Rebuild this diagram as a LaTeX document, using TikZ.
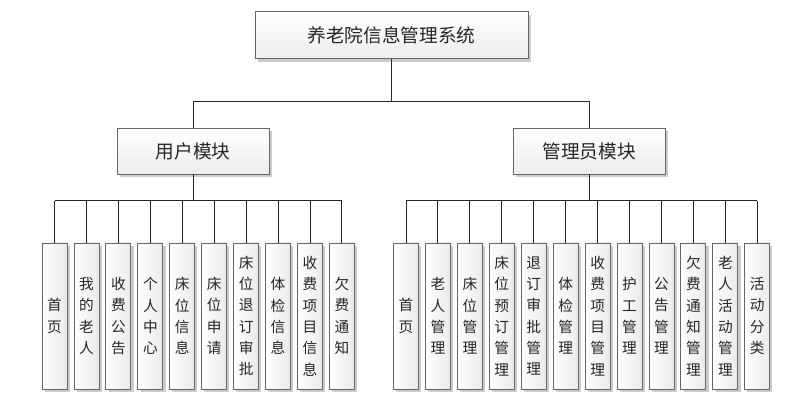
\documentclass[tikz,border=0pt]{standalone}
\usepackage{fontspec}
\setmainfont{Noto Sans CJK SC}
\usetikzlibrary{positioning,shadows}

\begin{document}
\begin{tikzpicture}[
	node distance=4.5pt,
	box/.style={rectangle, draw=black!60, line width=0.7pt, align=center, text=black!85,
		drop shadow={shadow xshift=2pt, shadow yshift=-2pt, fill=black!40}},
	sysbox/.style={box, top color=white, bottom color=gray!14,
		minimum width=204.75pt, minimum height=35.25pt, font=\fontsize{14}{17}\selectfont},
	modbox/.style={box, top color=white, bottom color=gray!14,
		minimum width=114pt, minimum height=34.5pt, font=\fontsize{14}{17}\selectfont},
	leaf/.style={box, left color=white, right color=gray!16, inner sep=0pt,
		minimum width=18.75pt, minimum height=109.5pt, font=\fontsize{11}{16}\selectfont},
	link/.style={draw=black!85, line width=0.75pt}
	]
	\useasboundingbox (0,0) rectangle (593.25pt,301.5pt);
	\coordinate (tbus) at (0,225pt);
	\coordinate (lbus) at (0,150.75pt);

	\node[sysbox] (sys) at (293.6pt,274.9pt) {养老院信息管理系统};
	\node[modbox] (user) at (144.75pt,188.25pt) {用户模块};
	\node[modbox] (admin) at (441.75pt,188.25pt) {管理员模块};

	% user module
	\node[leaf] (u1) at (40.9pt,64.5pt) {首\\页};
	\node[leaf, right=of u1] (u2) {我\\的\\老\\人};
	\node[leaf, right=of u2] (u3) {收\\费\\公\\告};
	\node[leaf, right=of u3] (u4) {个\\人\\中\\心};
	\node[leaf, right=of u4] (u5) {床\\位\\信\\息};
	\node[leaf, right=of u5] (u6) {床\\位\\申\\请};
	\node[leaf, right=of u6] (u7) {床\\位\\退\\订\\审\\批};
	\node[leaf, right=of u7] (u8) {体\\检\\信\\息};
	\node[leaf, right=of u8] (u9) {收\\费\\项\\目\\信\\息};
	\node[leaf, right=of u9] (u10) {欠\\费\\通\\知};

	% admin module
	\node[leaf] (a1) at (304.5pt,64.5pt) {首\\页};
	\node[leaf, right=of a1] (a2) {老\\人\\管\\理};
	\node[leaf, right=of a2] (a3) {床\\位\\管\\理};
	\node[leaf, right=of a3] (a4) {床\\位\\预\\订\\管\\理};
	\node[leaf, right=of a4] (a5) {退\\订\\审\\批\\管\\理};
	\node[leaf, right=of a5] (a6) {体\\检\\管\\理};
	\node[leaf, right=of a6] (a7) {收\\费\\项\\目\\管\\理};
	\node[leaf, right=of a7] (a8) {护\\工\\管\\理};
	\node[leaf, right=of a8] (a9) {公\\告\\管\\理};
	\node[leaf, right=of a9] (a10) {欠\\费\\通\\知\\管\\理};
	\node[leaf, right=of a10] (a11) {老\\人\\活\\动\\管\\理};
	\node[leaf, right=of a11] (a12) {活\\动\\分\\类};

	% connectors
	\draw[link] (sys.south) -- (sys.south |- tbus);
	\draw[link] (user.north) -- (user.north |- tbus) -- (admin.north |- tbus) -- (admin.north);
	\draw[link] (user.south) -- (user.south |- lbus);
	\draw[link] (u1.north |- lbus) -- (u10.north |- lbus);
	\foreach \i in {1,...,10}
		\draw[link] (u\i.north) -- (u\i.north |- lbus);
	\draw[link] (admin.south) -- (admin.south |- lbus);
	\draw[link] (a1.north |- lbus) -- (a12.north |- lbus);
	\foreach \i in {1,...,12}
		\draw[link] (a\i.north) -- (a\i.north |- lbus);
\end{tikzpicture}
\end{document}
